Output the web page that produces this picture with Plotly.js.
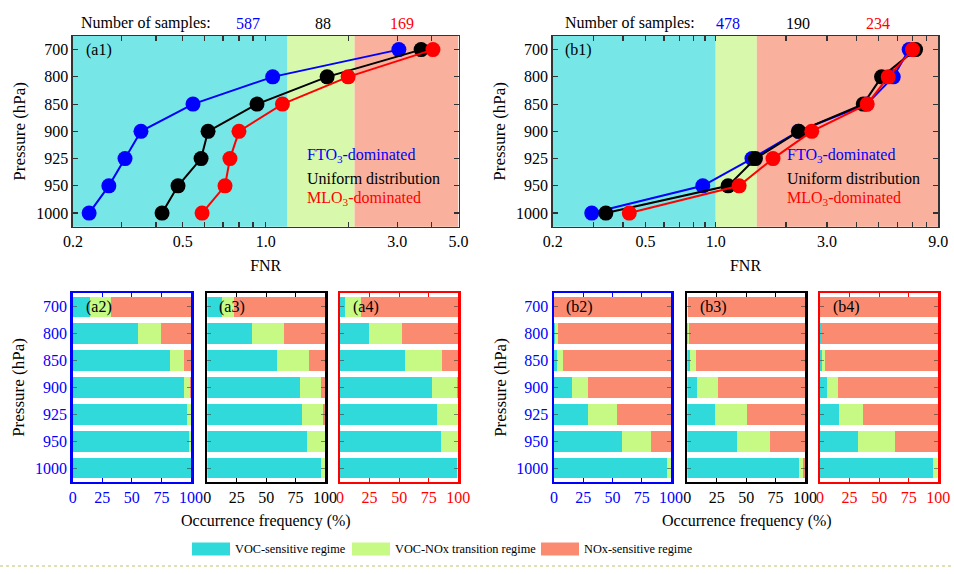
<!DOCTYPE html>
<html>
<head>
<meta charset="utf-8">
<script src="https://cdn.plot.ly/plotly-3.0.1.min.js"></script>
<style>html,body{margin:0;padding:0;background:#fff;}#chart{width:954px;height:574px;}</style>
</head>
<body>
<div id="chart"></div>
<script>
// ---------- data ----------
var levels = ['700', '800', '850', '900', '925', '950', '1000'];

// FNR profiles, panel (a1)
var a1_FTO = [3.04, 1.06, 0.545, 0.353, 0.309, 0.270, 0.229];
var a1_UNI = [3.66, 1.67, 0.93, 0.618, 0.583, 0.481, 0.421];
var a1_MLO = [4.04, 1.99, 1.15, 0.80, 0.742, 0.712, 0.588];
// FNR profiles, panel (b1)
var b1_FTO = [6.75, 5.77, 4.44, 2.26, 1.43, 0.88, 0.294];
var b1_UNI = [7.19, 5.14, 4.29, 2.27, 1.48, 1.13, 0.338];
var b1_MLO = [6.98, 5.49, 4.46, 2.58, 1.76, 1.26, 0.426];

// regime boundaries on the FNR axis
var regimeA = [0.2, 1.2, 2.1, 5.0];
var regimeB = [0.2, 1.0, 1.5, 9.0];

var samplesA = ['587', '88', '169'];
var samplesB = ['478', '190', '234'];

// occurrence frequency (%) : VOC-sensitive, transition, NOx-sensitive
var a2_voc = [14.7, 55.6, 82.0, 94.0, 96.5, 98.5, 100];
var a2_tr  = [17.7, 19.1, 12.0, 5.0, 3.5, 1.5, 0];
var a2_nox = [67.6, 25.3, 6.0, 1.0, 0, 0, 0];

var a3_voc = [12.3, 37.7, 59.6, 78.7, 80.1, 84.5, 97.0];
var a3_tr  = [10.8, 27.5, 26.9, 17.5, 18.1, 15.5, 3.0];
var a3_nox = [76.9, 34.8, 13.5, 3.8, 1.8, 0, 0];

var a4_voc = [4.4, 24.7, 55.0, 77.9, 82.4, 85.0, 99.0];
var a4_tr  = [13.0, 27.3, 30.9, 21.2, 17.6, 15.0, 1.0];
var a4_nox = [82.6, 48.0, 14.1, 0.9, 0, 0, 0];

var b2_voc = [0, 0.6, 2.9, 15.0, 29.1, 57.9, 96.8];
var b2_tr  = [0, 2.9, 4.7, 14.1, 25.0, 24.7, 3.2];
var b2_nox = [100, 96.5, 92.4, 70.9, 45.9, 17.4, 0];

var b3_voc = [0, 0.3, 2.0, 7.9, 23.4, 42.4, 94.7];
var b3_tr  = [0.6, 1.5, 5.3, 17.8, 27.2, 27.5, 3.5];
var b3_nox = [99.4, 98.2, 92.7, 74.3, 49.4, 30.1, 1.8];

var b4_voc = [0, 0.6, 2.0, 5.9, 16.2, 32.4, 95.3];
var b4_tr  = [0, 0.6, 1.8, 9.7, 20.3, 30.8, 4.1];
var b4_nox = [100, 98.8, 96.2, 84.4, 63.5, 36.8, 0.6];

var freqTicks = [0, 25, 50, 75, 100];
var fnrTicksA = [0.2, 0.5, 1.0, 3.0, 5.0];
var fnrLabelsA = ['0.2', '0.5', '1.0', '3.0', '5.0'];
var fnrMinorA = [0.3, 0.4, 0.6, 0.7, 0.8, 0.9, 2.0, 4.0];
var fnrTicksB = [0.2, 0.5, 1.0, 3.0, 9.0];
var fnrLabelsB = ['0.2', '0.5', '1.0', '3.0', '9.0'];
var fnrMinorB = [0.3, 0.4, 0.6, 0.7, 0.8, 0.9, 2.0, 4.0, 5.0, 6.0, 7.0, 8.0];

var regimeNames = ['VOC-sensitive regime', 'VOC-NOx transition regime', 'NOx-sensitive regime'];

// ---------- styling ----------
var FONT = 'Liberation Serif, Times New Roman, serif';
var W = 954, H = 574;
function px(x) { return x / W; }
function py(y) { return 1 - y / H; }

var barCols = ['#31dada', '#c6fa84', '#fa8b70'];
var bgCols = ['#76e6e6', '#d8f9ab', '#f9b19d'];
var lineCols = ['#0000ff', '#000000', '#ff0000'];

var traces = [];

function lineTrace(x, name, color, xa, ya) {
  return {
    type: 'scatter', mode: 'lines+markers', x: x, y: levels, name: name,
    xaxis: xa, yaxis: ya, showlegend: false, cliponaxis: false,
    line: { color: color, width: 2 },
    marker: { color: color, size: 15 }
  };
}
traces.push(lineTrace(a1_FTO, 'FTO3', lineCols[0], 'x', 'y'));
traces.push(lineTrace(a1_UNI, 'Uniform', lineCols[1], 'x', 'y'));
traces.push(lineTrace(a1_MLO, 'MLO3', lineCols[2], 'x', 'y'));
traces.push(lineTrace(b1_FTO, 'FTO3', lineCols[0], 'x2', 'y2'));
traces.push(lineTrace(b1_UNI, 'Uniform', lineCols[1], 'x2', 'y2'));
traces.push(lineTrace(b1_MLO, 'MLO3', lineCols[2], 'x2', 'y2'));

var barSets = [
  [a2_voc, a2_tr, a2_nox],
  [a3_voc, a3_tr, a3_nox],
  [a4_voc, a4_tr, a4_nox],
  [b2_voc, b2_tr, b2_nox],
  [b3_voc, b3_tr, b3_nox],
  [b4_voc, b4_tr, b4_nox]
];
barSets.forEach(function (set, i) {
  var n = i + 3;
  set.forEach(function (vals, k) {
    traces.push({
      type: 'bar', orientation: 'h', x: vals, y: levels, name: regimeNames[k],
      xaxis: 'x' + n, yaxis: 'y' + n, showlegend: false,
      marker: { color: barCols[k], line: { width: 0 } },
      hoverinfo: 'x+y+name'
    });
  });
});

var layout = {
  width: W, height: H,
  margin: { l: 0, r: 0, t: 0, b: 0 },
  paper_bgcolor: '#ffffff', plot_bgcolor: 'rgba(0,0,0,0)',
  font: { family: FONT, size: 16, color: '#000' },
  barmode: 'stack', bargap: 0.24,
  showlegend: false,
  shapes: [], annotations: []
};

// top panels
function fnrAxis(dom, yanchor, range, tv, tt, mv) {
  return {
    type: 'log', domain: dom, anchor: yanchor,
    range: [Math.log10(range[0]), Math.log10(range[1])],
    tickmode: 'array', tickvals: tv, ticktext: tt,
    ticks: 'inside', ticklen: 5, tickwidth: 1.2, tickcolor: '#333',
    minor: { tickmode: 'array', tickvals: mv, ticks: 'inside', ticklen: 5, tickwidth: 1.2, tickcolor: '#333', showgrid: false },
    showline: true, linecolor: '#333', linewidth: 1.5, mirror: 'ticks',
    showgrid: false, zeroline: false,
    tickfont: { family: FONT, size: 16, color: '#000' },
    title: { text: 'FNR', font: { family: FONT, size: 16 }, standoff: 10 }
  };
}
function levAxis(dom, xanchor, showTitle, tickColor, showLabels) {
  var ax = {
    type: 'category', categoryorder: 'array', categoryarray: levels,
    domain: dom, anchor: xanchor, range: [6.5, -0.5],
    ticks: 'inside', ticklen: 5, tickwidth: 1.2, tickcolor: '#333',
    showline: true, linecolor: '#333', linewidth: 1.5, mirror: 'ticks',
    showgrid: false, zeroline: false, showticklabels: showLabels,
    tickfont: { family: FONT, size: 16, color: tickColor }
  };
  if (showTitle) ax.title = { text: 'Pressure (hPa)', font: { family: FONT, size: 17 }, standoff: 6 };
  return ax;
}
var topY = [py(226.7), py(36)];
layout.xaxis = fnrAxis([px(72.9), px(458.5)], 'y', [0.2, 5.0], fnrTicksA, fnrLabelsA, fnrMinorA);
layout.yaxis = levAxis(topY, 'x', true, '#000', true);
layout.xaxis2 = fnrAxis([px(552.7), px(938.3)], 'y2', [0.2, 9.0], fnrTicksB, fnrLabelsB, fnrMinorB);
layout.yaxis2 = levAxis(topY, 'x2', true, '#000', true);

// regime background shading
function shade(bounds, xref, yref) {
  for (var k = 0; k < 3; k++) {
    layout.shapes.push({
      type: 'rect', xref: xref, yref: yref + ' domain', layer: 'below',
      x0: bounds[k], x1: bounds[k + 1], y0: 0, y1: 1,
      fillcolor: bgCols[k], line: { width: 0 }
    });
  }
}
shade(regimeA, 'x', 'y');
shade(regimeB, 'x2', 'y2');

// bottom panels
var botY = [py(481.7), py(293.3)];
var botX = [[72.7, 191], [207.3, 325], [340, 458.3], [554, 671], [687.3, 805], [820, 938.3]];
var frameCols = ['#0000ff', '#000000', '#ff0000', '#0000ff', '#000000', '#ff0000'];
botX.forEach(function (d, i) {
  var n = i + 3;
  var c = frameCols[i];
  layout['xaxis' + n] = {
    domain: [px(d[0]), px(d[1])], anchor: 'y' + n, range: [0, 100],
    tickmode: 'array', tickvals: freqTicks,
    ticks: 'inside', ticklen: 4, tickwidth: 1.2, tickcolor: c,
    showline: true, linecolor: c, linewidth: 2.5, mirror: 'ticks',
    showgrid: false, zeroline: false,
    tickfont: { family: FONT, size: 16, color: c }
  };
  var first = (i === 0 || i === 3);
  var ya = {
    type: 'category', categoryorder: 'array', categoryarray: levels,
    domain: botY, anchor: 'x' + n, range: [6.5, -0.5],
    ticks: 'inside', ticklen: 4, tickwidth: 1.2, tickcolor: 'rgba(60,60,60,0.6)',
    showline: true, linecolor: c, linewidth: 2.5, mirror: 'ticks',
    showgrid: false, zeroline: false, showticklabels: first,
    tickfont: { family: FONT, size: 16, color: '#0000ff' }
  };
  if (first) ya.title = { text: 'Pressure (hPa)', font: { family: FONT, size: 17 }, standoff: 6 };
  layout['yaxis' + n] = ya;
});

function ann(text, x, y, opts) {
  var a = {
    text: text, x: x, y: y, xref: 'paper', yref: 'paper', showarrow: false,
    xanchor: 'left', yanchor: 'middle',
    font: { family: FONT, size: 16, color: '#000' }
  };
  for (var k in opts) a[k] = opts[k];
  layout.annotations.push(a);
}

// sample counts
ann('Number of samples:', px(79), py(23));
ann(samplesA[0], px(248), py(23), { xanchor: 'center', font: { family: FONT, size: 16, color: '#0000ff' } });
ann(samplesA[1], px(323), py(23), { xanchor: 'center' });
ann(samplesA[2], px(402), py(23), { xanchor: 'center', font: { family: FONT, size: 16, color: '#ff0000' } });
ann('Number of samples:', px(563), py(23));
ann(samplesB[0], px(728), py(23), { xanchor: 'center', font: { family: FONT, size: 16, color: '#0000ff' } });
ann(samplesB[1], px(798), py(23), { xanchor: 'center' });
ann(samplesB[2], px(878), py(23), { xanchor: 'center', font: { family: FONT, size: 16, color: '#ff0000' } });

// panel labels
ann('(a1)', px(84), py(50));
ann('(b1)', px(563), py(50));
ann('(a2)', px(84), py(307));
ann('(a3)', px(217), py(307));
ann('(a4)', px(351), py(307));
ann('(b2)', px(564), py(307));
ann('(b3)', px(698), py(307));
ann('(b4)', px(831), py(307));

// in-panel series labels
var seriesText = ['FTO<sub>3</sub>-dominated', 'Uniform distribution', 'MLO<sub>3</sub>-dominated'];
var seriesY = [155, 178, 199];
[305, 785].forEach(function (x0) {
  for (var k = 0; k < 3; k++) {
    ann(seriesText[k], px(x0), py(seriesY[k]), { font: { family: FONT, size: 16, color: lineCols[k] } });
  }
});

// bottom x titles
ann('Occurrence frequency (%)', px(266), py(521), { xanchor: 'center' });
ann('Occurrence frequency (%)', px(747), py(521), { xanchor: 'center' });

// legend
var legX = [[192, 230], [352, 390], [541, 579]];
legX.forEach(function (lx, k) {
  layout.shapes.push({
    type: 'rect', xref: 'paper', yref: 'paper',
    x0: px(lx[0]), x1: px(lx[1]), y0: py(555.5), y1: py(542.5),
    fillcolor: barCols[k], line: { width: 0 }
  });
  ann(regimeNames[k], px(lx[1] + 3), py(549), { font: { family: FONT, size: 12.3, color: '#000' } });
});

// dotted rule at the bottom of the figure
layout.shapes.push({
  type: 'line', xref: 'paper', yref: 'paper', x0: 0, x1: 1, y0: py(566), y1: py(566),
  line: { color: '#d6d6a0', width: 1.5, dash: 'dot' }
});

Plotly.newPlot('chart', traces, layout, { displayModeBar: false, staticPlot: true });
</script>
</body>
</html>
